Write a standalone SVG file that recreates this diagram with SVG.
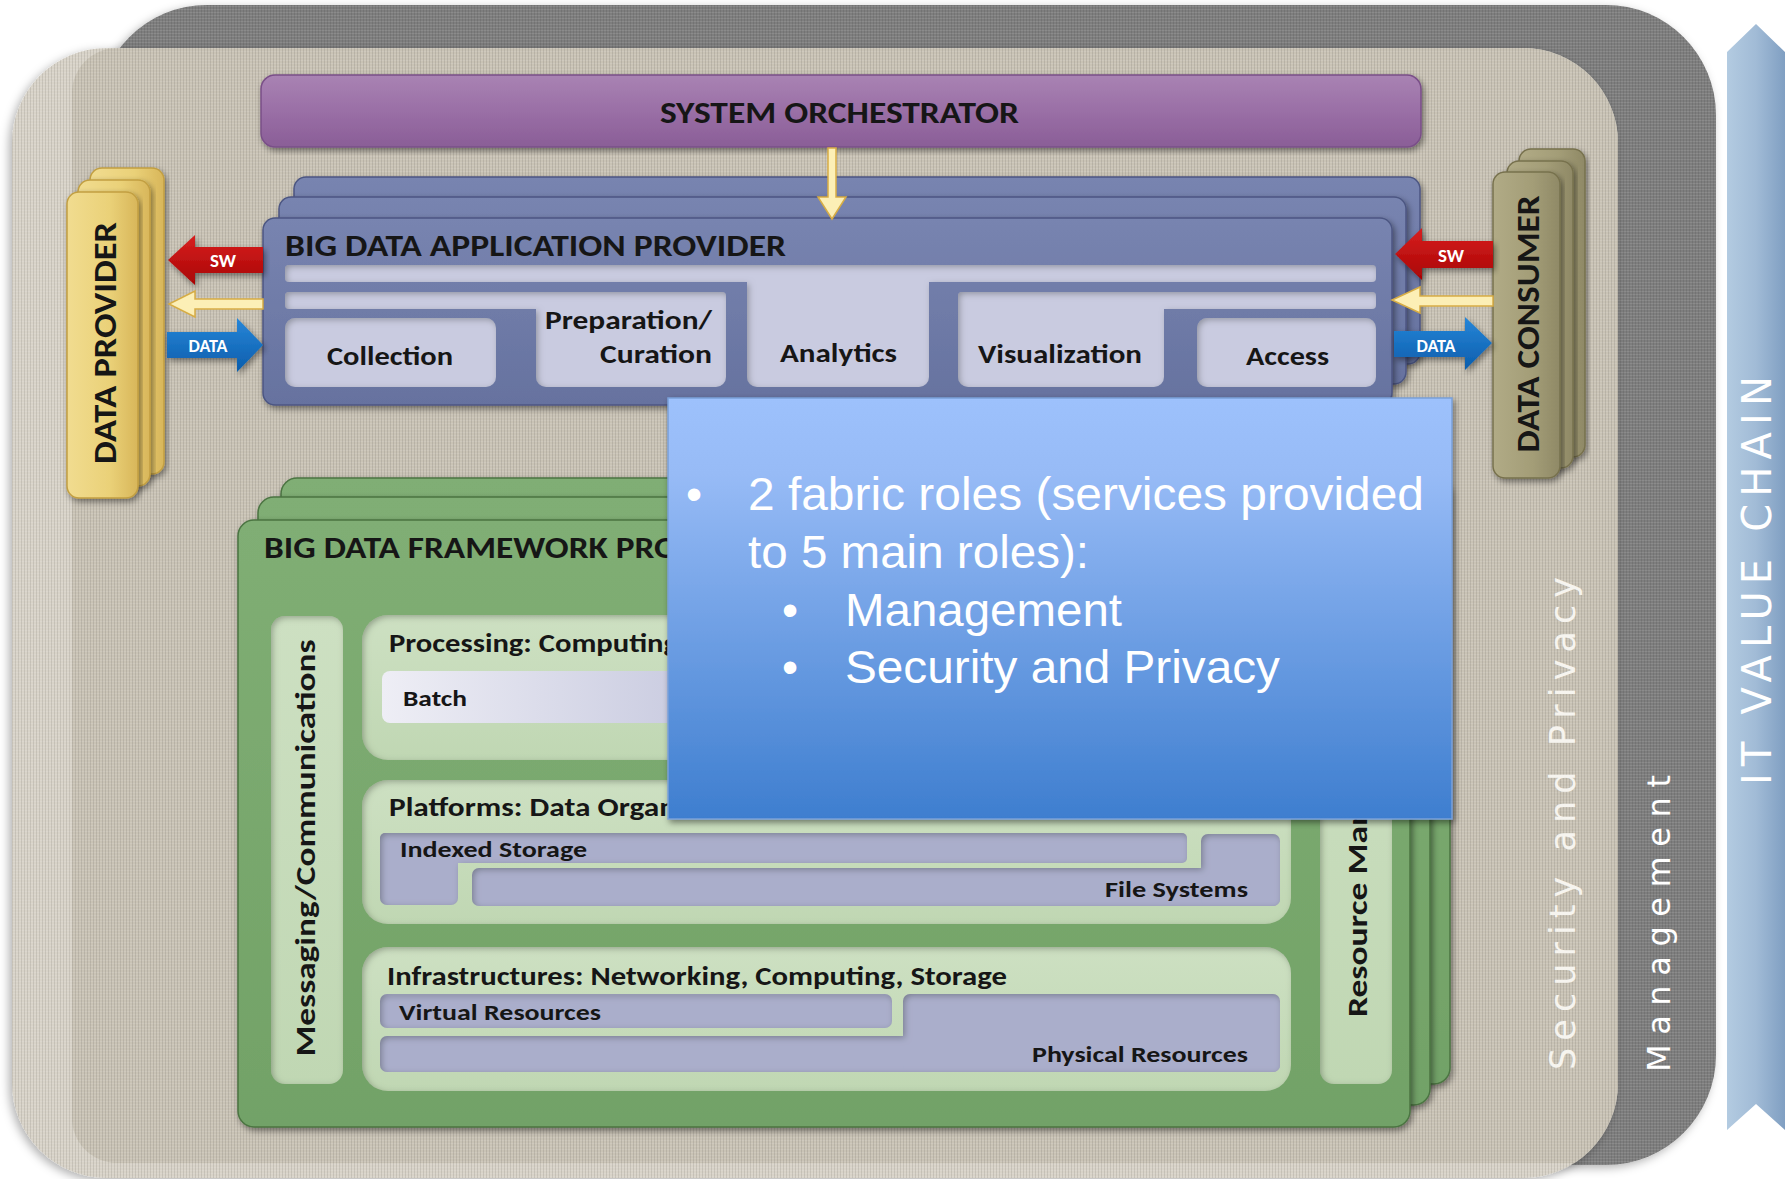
<svg xmlns="http://www.w3.org/2000/svg" width="1788" height="1179" viewBox="0 0 1788 1179">
  <style>
    .lbl { font-family: Carlito, Lato, "Noto Sans", sans-serif; font-weight: 700; fill: #161616; }
    .arrowtxt { font-family: Carlito, Lato, "Noto Sans", sans-serif; font-weight: 700; fill: #ffffff; text-anchor: middle; }
    .band { font-family: "DejaVu Sans", Verdana, sans-serif; }
    .ovl { font-family: "Liberation Sans", Arial, sans-serif; fill: #ffffff; }
    .bdap { fill: url(#gBdap); stroke: #4c5682; stroke-width: 1.5; }
    .bdapIn { fill: #c9cbe0; }
    .green { fill: url(#gGreen); stroke: #4b7442; stroke-width: 1.5; }
    .paleGreen { fill: url(#gPale); }
    .lav { fill: #aaaecb; }
    .prov { fill: url(#gProv); stroke: #c29f42; stroke-width: 1.5; }
    .cons { fill: url(#gCons); stroke: #77714d; stroke-width: 1.5; }
    .yarrow { fill: #fcefb6; stroke: #d7ad45; stroke-width: 1.5; }
  </style>
  <defs>
    <pattern id="linen" width="3" height="3" patternUnits="userSpaceOnUse">
      <path d="M0 0.5H3" stroke="#ffffff" stroke-opacity="0.1"/>
      <path d="M0.5 0V3" stroke="#000000" stroke-opacity="0.09"/>
    </pattern>
    <clipPath id="beigeClip">
      <rect x="12" y="48" width="1606" height="1130" rx="95"/>
    </clipPath>
    <linearGradient id="gPurple" x1="0" y1="0" x2="0" y2="1">
      <stop offset="0" stop-color="#a983b3"/>
      <stop offset="0.5" stop-color="#9a6fa6"/>
      <stop offset="1" stop-color="#8a5e97"/>
    </linearGradient>
    <linearGradient id="gBdap" x1="0" y1="0" x2="0" y2="1">
      <stop offset="0" stop-color="#7884b0"/>
      <stop offset="1" stop-color="#66729f"/>
    </linearGradient>
    <linearGradient id="gGreen" x1="0" y1="0" x2="0" y2="1">
      <stop offset="0" stop-color="#80ae74"/>
      <stop offset="1" stop-color="#72a267"/>
    </linearGradient>
    <linearGradient id="gPale" x1="0" y1="0" x2="0" y2="1">
      <stop offset="0" stop-color="#cde0c2"/>
      <stop offset="1" stop-color="#c0d7b3"/>
    </linearGradient>
    <linearGradient id="gBatch" x1="0" y1="0" x2="1" y2="0">
      <stop offset="0" stop-color="#eeeef5"/>
      <stop offset="0.35" stop-color="#c9cbe0"/>
      <stop offset="1" stop-color="#c3c6dc"/>
    </linearGradient>
    <linearGradient id="gProv" x1="0" y1="0" x2="1" y2="0">
      <stop offset="0" stop-color="#f1dc90"/>
      <stop offset="0.6" stop-color="#ead178"/>
      <stop offset="1" stop-color="#d8b65a"/>
    </linearGradient>
    <linearGradient id="gCons" x1="0" y1="0" x2="1" y2="0">
      <stop offset="0" stop-color="#b1ab86"/>
      <stop offset="0.6" stop-color="#a39d77"/>
      <stop offset="1" stop-color="#8f8966"/>
    </linearGradient>
    <linearGradient id="gRed" x1="0" y1="0" x2="0" y2="1">
      <stop offset="0" stop-color="#d82020"/>
      <stop offset="1" stop-color="#a80404"/>
    </linearGradient>
    <linearGradient id="gBlue" x1="0" y1="0" x2="0" y2="1">
      <stop offset="0" stop-color="#2786d8"/>
      <stop offset="1" stop-color="#0b5dac"/>
    </linearGradient>
    <linearGradient id="gChain" x1="0" y1="0" x2="1" y2="0">
      <stop offset="0" stop-color="#b3cbe1"/>
      <stop offset="0.5" stop-color="#a1bbd6"/>
      <stop offset="1" stop-color="#809fc2"/>
    </linearGradient>
    <linearGradient id="gNote" x1="0" y1="0" x2="0" y2="1">
      <stop offset="0" stop-color="#9dc1fc"/>
      <stop offset="0.18" stop-color="#97bbf6"/>
      <stop offset="1" stop-color="#3e7ecf"/>
    </linearGradient>
    <filter id="shadow" x="-5%" y="-5%" width="112%" height="115%">
      <feDropShadow dx="2" dy="3" stdDeviation="3" flood-color="#000" flood-opacity="0.45"/>
    </filter>
    <filter id="panelShadow" x="-5%" y="-5%" width="110%" height="110%">
      <feDropShadow dx="-3" dy="3" stdDeviation="5" flood-color="#000" flood-opacity="0.3"/>
    </filter>
    <filter id="inset" x="-10%" y="-10%" width="120%" height="120%">
      <feComponentTransfer in="SourceAlpha" result="inv">
        <feFuncA type="table" tableValues="1 0"/>
      </feComponentTransfer>
      <feGaussianBlur in="inv" stdDeviation="3" result="blur"/>
      <feOffset in="blur" dx="2" dy="2" result="off"/>
      <feFlood flood-color="#22301a" flood-opacity="0.55"/>
      <feComposite in2="off" operator="in" result="sh"/>
      <feComposite in="sh" in2="SourceAlpha" operator="in" result="ish"/>
      <feMerge>
        <feMergeNode in="SourceGraphic"/>
        <feMergeNode in="ish"/>
      </feMerge>
    </filter>
  </defs>

  <rect width="1788" height="1179" fill="#ffffff"/>

  <!-- Management band (dark linen) -->
  <g id="management">
    <rect x="97" y="5" width="1619" height="1160" rx="110" fill="#7e7e7e" filter="url(#panelShadow)"/>
    <rect x="97" y="5" width="1619" height="1160" rx="110" fill="url(#linen)"/>
    <text class="band" transform="translate(1670,1072) rotate(-90)" font-size="32" fill="#ffffff" textLength="297" lengthAdjust="spacing">Management</text>
  </g>

  <!-- Security and Privacy band (beige linen) -->
  <g id="security-privacy">
    <rect x="12" y="48" width="1606" height="1130" rx="95" fill="#d8d3c8" filter="url(#panelShadow)"/>
    <g clip-path="url(#beigeClip)">
      <rect x="72" y="48" width="1600" height="1115" rx="45" fill="#c9c3b5"/>
    </g>
    <rect x="12" y="48" width="1606" height="1130" rx="95" fill="url(#linen)"/>
    <text class="band" transform="translate(1575,1070) rotate(-90)" font-size="35" fill="#f6f4ef" textLength="493" lengthAdjust="spacing">Security and Privacy</text>
  </g>

  <!-- IT value chain ribbon -->
  <g id="it-value-chain">
    <polygon points="1756,24 1785,52 1785,1130 1756,1104 1727,1130 1727,52" fill="url(#gChain)"/>
    <text class="band" transform="translate(1771,785) rotate(-90)" font-size="40" fill="#ffffff" textLength="409" lengthAdjust="spacing">IT VALUE CHAIN</text>
  </g>

  <!-- System Orchestrator -->
  <g id="system-orchestrator">
    <rect x="261" y="75" width="1160" height="72" rx="14" fill="url(#gPurple)" stroke="#7a4f88" stroke-width="1.5" filter="url(#shadow)"/>
    <text class="lbl" x="660" y="123" font-size="31" textLength="359" lengthAdjust="spacingAndGlyphs">SYSTEM ORCHESTRATOR</text>
  </g>

  <!-- Big Data Application Provider -->
  <g id="application-provider">
    <rect class="bdap" x="294" y="177" width="1126" height="187" rx="12" filter="url(#shadow)"/>
    <rect class="bdap" x="279" y="197" width="1127" height="187" rx="12" filter="url(#shadow)"/>
    <rect class="bdap" x="263" y="218" width="1129" height="187" rx="12" filter="url(#shadow)"/>
    <text class="lbl" x="285" y="256" font-size="31" textLength="501" lengthAdjust="spacingAndGlyphs">BIG DATA APPLICATION PROVIDER</text>
    <g filter="url(#inset)">
      <rect class="bdapIn" x="285" y="265" width="1091" height="17" rx="4"/>
      <rect class="bdapIn" x="747" y="265" width="182" height="122" rx="10"/>
    </g>
    <g filter="url(#inset)">
      <rect class="bdapIn" x="285" y="292" width="441" height="17" rx="4"/>
      <rect class="bdapIn" x="536" y="292" width="190" height="95" rx="10"/>
    </g>
    <g filter="url(#inset)">
      <rect class="bdapIn" x="958" y="292" width="418" height="17" rx="4"/>
      <rect class="bdapIn" x="958" y="292" width="206" height="95" rx="10"/>
    </g>
    <rect class="bdapIn" x="285" y="318" width="211" height="69" rx="10" filter="url(#inset)"/>
    <rect class="bdapIn" x="1197" y="318" width="179" height="69" rx="10" filter="url(#inset)"/>
    <text class="lbl" x="327" y="365" font-size="26" textLength="126" lengthAdjust="spacingAndGlyphs">Collection</text>
    <text class="lbl" x="545" y="329" font-size="26" textLength="167" lengthAdjust="spacingAndGlyphs">Preparation/</text>
    <text class="lbl" x="600" y="363" font-size="26" textLength="112" lengthAdjust="spacingAndGlyphs">Curation</text>
    <text class="lbl" x="780" y="362" font-size="26" textLength="117" lengthAdjust="spacingAndGlyphs">Analytics</text>
    <text class="lbl" x="978" y="363" font-size="26" textLength="164" lengthAdjust="spacingAndGlyphs">Visualization</text>
    <text class="lbl" x="1246" y="365" font-size="26" textLength="83" lengthAdjust="spacingAndGlyphs">Access</text>
  </g>

  <!-- Data Provider -->
  <g id="data-provider">
    <rect class="prov" x="90" y="168" width="74" height="306" rx="12" filter="url(#shadow)"/>
    <rect class="prov" x="78" y="180" width="72" height="306" rx="12" filter="url(#shadow)"/>
    <rect class="prov" x="67" y="192" width="71" height="306" rx="12" filter="url(#shadow)"/>
    <text class="lbl" transform="translate(116,343) rotate(-90)" font-size="32" text-anchor="middle" textLength="242" lengthAdjust="spacingAndGlyphs">DATA PROVIDER</text>
  </g>

  <!-- Data Consumer -->
  <g id="data-consumer">
    <rect class="cons" x="1519" y="149" width="66" height="308" rx="12" filter="url(#shadow)"/>
    <rect class="cons" x="1507" y="161" width="66" height="307" rx="12" filter="url(#shadow)"/>
    <rect class="cons" x="1493" y="172" width="67" height="306" rx="12" filter="url(#shadow)"/>
    <text class="lbl" transform="translate(1539,324) rotate(-90)" font-size="32" text-anchor="middle" textLength="257" lengthAdjust="spacingAndGlyphs">DATA CONSUMER</text>
  </g>

  <!-- Big Data Framework Provider -->
  <g id="framework-provider">
    <rect class="green" x="281" y="478" width="1169" height="606" rx="16" filter="url(#shadow)"/>
    <rect class="green" x="258" y="497" width="1172" height="608" rx="16" filter="url(#shadow)"/>
    <rect class="green" x="238" y="520" width="1172" height="607" rx="16" filter="url(#shadow)"/>
    <text class="lbl" x="264" y="558" font-size="31" textLength="414" lengthAdjust="spacingAndGlyphs">BIG DATA FRAMEWORK PRO</text>

    <g id="messaging">
      <rect class="paleGreen" x="271" y="616" width="72" height="468" rx="14" filter="url(#inset)"/>
      <text class="lbl" transform="translate(315,848) rotate(-90)" font-size="28" text-anchor="middle" textLength="417" lengthAdjust="spacingAndGlyphs">Messaging/Communications</text>
    </g>

    <g id="resource-management">
      <rect class="paleGreen" x="1320" y="616" width="72" height="468" rx="14" filter="url(#inset)"/>
      <text class="lbl" transform="translate(1367,1017) rotate(-90)" font-size="28" textLength="210" lengthAdjust="spacingAndGlyphs">Resource Man</text>
    </g>

    <g id="processing">
      <rect class="paleGreen" x="362" y="615" width="929" height="145" rx="26" filter="url(#inset)"/>
      <text class="lbl" x="389" y="652" font-size="26" textLength="289" lengthAdjust="spacingAndGlyphs">Processing: Computing</text>
      <rect x="382" y="671" width="893" height="52" rx="8" fill="url(#gBatch)"/>
      <text class="lbl" x="403" y="706" font-size="23" textLength="64" lengthAdjust="spacingAndGlyphs">Batch</text>
    </g>

    <g id="platforms">
      <rect class="paleGreen" x="362" y="780" width="929" height="144" rx="26" filter="url(#inset)"/>
      <text class="lbl" x="389" y="816" font-size="26" textLength="287" lengthAdjust="spacingAndGlyphs">Platforms: Data Organ</text>
      <g filter="url(#inset)">
        <rect class="lav" x="380" y="833" width="807" height="30" rx="5"/>
        <rect class="lav" x="380" y="833" width="78" height="72" rx="7"/>
      </g>
      <g filter="url(#inset)">
        <rect class="lav" x="472" y="868" width="808" height="38" rx="7"/>
        <rect class="lav" x="1201" y="834" width="79" height="72" rx="7"/>
      </g>
      <text class="lbl" x="400" y="857" font-size="23" textLength="187" lengthAdjust="spacingAndGlyphs">Indexed Storage</text>
      <text class="lbl" x="1248" y="897" font-size="23" text-anchor="end" textLength="143" lengthAdjust="spacingAndGlyphs">File Systems</text>
    </g>

    <g id="infrastructures">
      <rect class="paleGreen" x="362" y="947" width="929" height="144" rx="26" filter="url(#inset)"/>
      <text class="lbl" x="387" y="985" font-size="26" textLength="620" lengthAdjust="spacingAndGlyphs">Infrastructures: Networking, Computing, Storage</text>
      <rect class="lav" x="380" y="994" width="512" height="34" rx="7" filter="url(#inset)"/>
      <g filter="url(#inset)">
        <rect class="lav" x="380" y="1036" width="900" height="36" rx="7"/>
        <rect class="lav" x="903" y="994" width="377" height="78" rx="7"/>
      </g>
      <text class="lbl" x="399" y="1020" font-size="23" textLength="202" lengthAdjust="spacingAndGlyphs">Virtual Resources</text>
      <text class="lbl" x="1248" y="1062" font-size="23" text-anchor="end" textLength="216" lengthAdjust="spacingAndGlyphs">Physical Resources</text>
    </g>
  </g>

  <!-- Connectors: control, software and data flows -->
  <g id="connectors">
    <polygon class="yarrow" points="828,148 836,148 836,197 846,197 832,219 818,197 828,197"/>

    <polygon points="263,247 195,247 195,235 168,260 195,285 195,273 263,273" fill="url(#gRed)" filter="url(#shadow)"/>
    <text class="arrowtxt" x="223" y="267" font-size="19">SW</text>
    <polygon class="yarrow" points="263,299 195,299 195,291 169,304 195,317 195,309 263,309"/>
    <polygon points="167,332 237,332 237,318 263,345 237,372 237,358 167,358" fill="url(#gBlue)" filter="url(#shadow)"/>
    <text class="arrowtxt" x="208" y="352" font-size="18">DATA</text>

    <polygon points="1493,241 1422,241 1422,228 1395,254 1422,280 1422,268 1493,268" fill="url(#gRed)" filter="url(#shadow)"/>
    <text class="arrowtxt" x="1451" y="262" font-size="19">SW</text>
    <polygon class="yarrow" points="1493,296 1420,296 1420,287 1392,300 1420,313 1420,306 1493,306"/>
    <polygon points="1394,331 1465,331 1465,317 1492,343 1465,370 1465,357 1394,357" fill="url(#gBlue)" filter="url(#shadow)"/>
    <text class="arrowtxt" x="1436" y="352" font-size="18">DATA</text>
  </g>

  <!-- Callout note -->
  <g id="note">
    <rect x="668" y="398" width="784" height="421" fill="url(#gNote)" stroke="#7aa0d8" stroke-width="1.5" filter="url(#shadow)"/>
    <text class="ovl" x="686" y="510" font-size="46">•</text>
    <text class="ovl" x="748" y="510" font-size="47" textLength="676" lengthAdjust="spacingAndGlyphs">2 fabric roles (services provided</text>
    <text class="ovl" x="748" y="568" font-size="47" textLength="341" lengthAdjust="spacingAndGlyphs">to 5 main roles):</text>
    <text class="ovl" x="782" y="626" font-size="46">•</text>
    <text class="ovl" x="845" y="626" font-size="47" textLength="277" lengthAdjust="spacingAndGlyphs">Management</text>
    <text class="ovl" x="782" y="683" font-size="46">•</text>
    <text class="ovl" x="845" y="683" font-size="47" textLength="435" lengthAdjust="spacingAndGlyphs">Security and Privacy</text>
  </g>
</svg>
